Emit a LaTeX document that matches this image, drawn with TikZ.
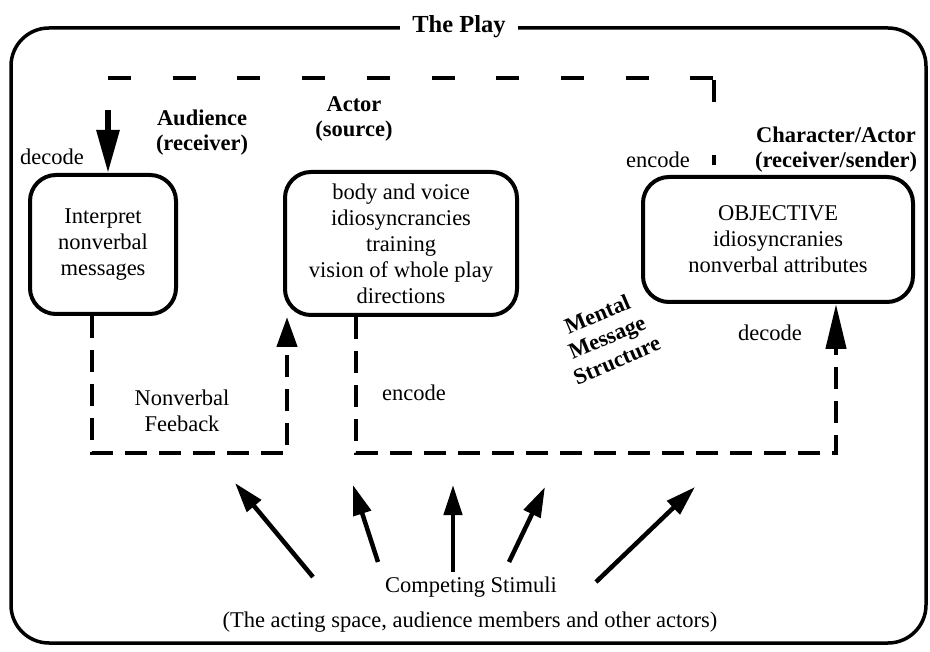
\documentclass[tikz,border=0pt]{standalone}
\usepackage{fontspec}
\setmainfont{Liberation Serif}
\usetikzlibrary{arrows.meta}
\begin{document}
\begin{tikzpicture}[x=1pt,y=-1pt,
  txt/.style={font=\fontsize{22.5}{26}\selectfont, align=center, inner sep=0pt},
  btxt/.style={font=\fontsize{22.5}{25}\selectfont\bfseries, align=center, inner sep=0pt},
  box/.style={draw, line width=4pt, rounded corners=26pt, font=\fontsize{22.5}{26}\selectfont, align=center, inner sep=0pt},
  topdash/.style={line width=4.5pt, dash pattern=on 23pt off 41.7pt},
  lowdash/.style={line width=4.5pt, dash pattern=on 22pt off 12pt},
  bigarrow/.style={line width=6pt, -{Triangle[length=43pt,width=22pt]}},
  stimarrow/.style={line width=4.5pt, -{Triangle[length=30pt,width=18pt]}},
]
\useasboundingbox (0,0) rectangle (930,652);
% frame
\draw[line width=3.5pt, rounded corners=38pt] (11,28) rectangle (926,643);
\node[font=\fontsize{24.5}{27}\selectfont\bfseries, fill=white, inner xsep=12pt, inner ysep=3pt] (title) at (459,27) {The Play};

% boxes
\node[box, minimum width=146pt, minimum height=139pt] (interp) at (103,244.5) {Interpret\\nonverbal\\messages};
\node[box, minimum width=232pt, minimum height=143pt] (actor) at (401,243.5) {body and  voice\\idiosyncrancies\\training\\vision of whole play\\directions};
\node[box, minimum width=270pt, minimum height=125pt] (obj) at (778,239.5) {OBJECTIVE\\idiosyncranies\\nonverbal attributes};

% labels
\node[btxt] (aud) at (202,132.5) {Audience\\(receiver)};
\node[btxt] (act) at (354,118.5) {Actor\\(source)};
\node[btxt] (char) at (836,149.5) {Character/Actor\\(receiver/sender)};
\node[txt] (enc1) at (658,160) {encode};
\node[txt] (dec1) at (52,157) {decode};
\node[txt] (fb) at (182,411) {Nonverbal\\Feeback};
\node[txt] (enc2) at (414,393) {encode};
\node[txt] (dec2) at (770,333) {decode};
\node[btxt, rotate=23] (mms) at (607,337) {Mental\\Message\\Structure};
\node[txt] (stim) at (471,587) {Competing Stimuli};
\node[txt] (stimsub) at (470,622) {(The acting space, audience members and other actors)};

% top connector: character -> audience
\draw[topdash] (108,78) -- (714,78);
\draw[line width=4.5pt, dash pattern=on 22pt off 53pt] (714,80) -- ([xshift=-64pt,yshift=10pt]obj.north);
\draw[bigarrow] (108,110) -- ([xshift=5pt]interp.north);

% feedback loop
\draw[lowdash, -{Triangle[length=30pt,width=20pt]}] ([xshift=-11pt]interp.south) -- (92,453) -- (287,453) -- ([xshift=-114pt]actor.south);

% encode loop
\draw[lowdash, -{Triangle[length=45pt,width=20pt]}] ([xshift=-45pt]actor.south) -- (356,453) -- (836,453) -- ([xshift=58pt]obj.south);

% competing stimuli
\coordinate (s1a) at (313,577); \coordinate (s1b) at (235,483);
\coordinate (s2a) at (378,562); \coordinate (s2b) at (353,485);
\coordinate (s3a) at (453,572); \coordinate (s3b) at (453,485);
\coordinate (s4a) at (509,562); \coordinate (s4b) at (545,487);
\coordinate (s5a) at (596,582); \coordinate (s5b) at (695,487);
\foreach \i in {1,...,5} \draw[stimarrow] (s\i a) -- (s\i b);
\end{tikzpicture}
\end{document}
